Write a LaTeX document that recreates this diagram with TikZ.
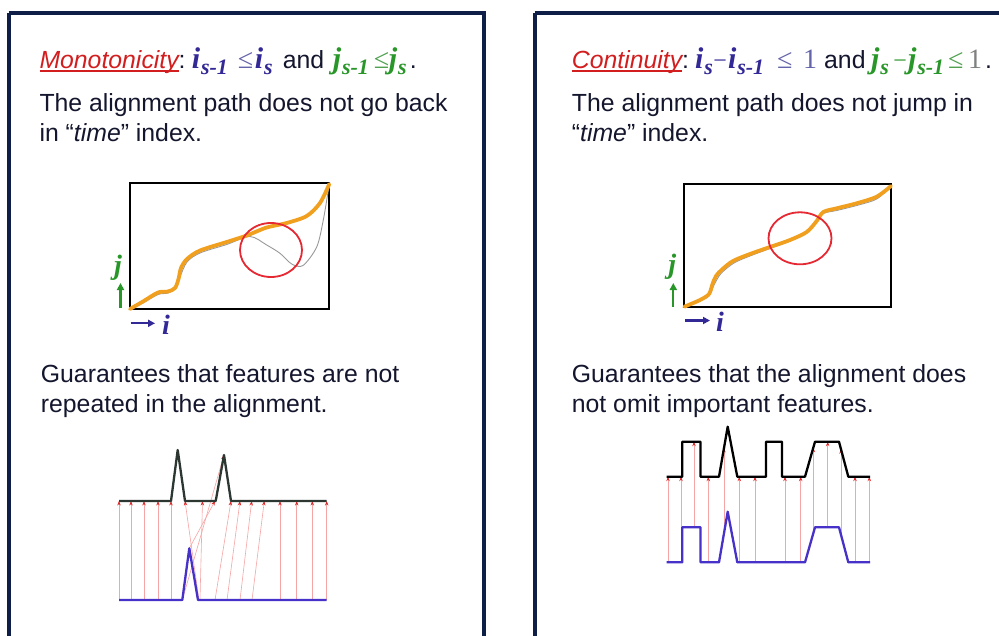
\documentclass[tikz,border=0pt]{standalone}
\usepackage{fontspec}
\setmainfont{Liberation Sans}
\newfontfamily\tmsfont{Liberation Serif}
\usetikzlibrary{arrows.meta}
\definecolor{titred}{RGB}{210,30,30}
\definecolor{iblue}{RGB}{50,40,150}
\definecolor{ileq}{RGB}{100,100,170}
\definecolor{jgreen}{RGB}{40,150,40}
\definecolor{jleq}{RGB}{80,160,80}
\definecolor{txtdark}{RGB}{20,22,45}
\definecolor{framecol}{RGB}{15,30,70}
\definecolor{pathorange}{RGB}{240,160,30}
\definecolor{circred}{RGB}{230,40,50}
\definecolor{pinkline}{RGB}{245,165,165}
\definecolor{arrred}{RGB}{220,40,40}
\definecolor{sigdark}{RGB}{45,55,50}
\definecolor{sigblue}{RGB}{70,50,200}
\newcommand\msub[1]{\kern0.8pt\raisebox{-0.22em}{\fontsize{22}{22}\selectfont #1}}
\newcommand\symI[1]{{\color{iblue}\fontsize{30}{30}\selectfont\tmsfont\bfseries\itshape i\msub{#1}}}
\newcommand\symJ[1]{{\color{jgreen}\fontsize{30}{30}\selectfont\tmsfont\bfseries\itshape j\msub{#1}}}
\newcommand\tmsr[2]{{\color{#1}\fontsize{28}{28}\selectfont\tmsfont #2}}
\newcommand\tmsm[1]{{\color{#1}\fontsize{24}{24}\selectfont\tmsfont −}}
\newcommand\ulword[1]{\setbox0\hbox{#1}\rlap{\rule[-3.2pt]{\wd0}{1.4pt}}\box0}
\tikzset{
  txt/.style={inner sep=0pt, anchor=base west, text=txtdark, font=\fontsize{24.8}{30}\selectfont},
  panel/.style={draw=framecol, line width=4pt},
  plotbox/.style={draw=black, line width=1.8pt},
  orangepath/.style={draw=pathorange, line width=3.8pt, line cap=round, line join=round},
  graypath/.style={draw=gray!80, line width=0.9pt},
  ring/.style={draw=circred, line width=1.8pt},
  alink/.style={draw=pinkline, line width=0.6pt, -{Stealth[length=4.5pt,width=3.4pt,color=arrred]}},
  topsig/.style={draw=sigdark, line width=2.3pt, line join=round},
  botsig/.style={draw=sigblue, line width=2.3pt, line join=round},
  axj/.style={draw=jgreen, line width=2.2pt, -{Triangle[length=7pt,width=7pt]}},
  axi/.style={draw=iblue, line width=2.2pt, -{Triangle[length=7pt,width=7pt]}},
  axlab/.style={inner sep=0pt, font=\fontsize{28}{28}\selectfont\tmsfont\bfseries\itshape}
}
\begin{document}
\begin{tikzpicture}[x=1pt,y=-1pt]
\useasboundingbox (0,0) rectangle (999,635);
\clip (0,0) rectangle (999,635);
\fill[white] (0,0) rectangle (999,635);
% panels
\draw[panel] (8.7,12.8) -- (484,12.8) -- (484,700) (8.7,12.8) -- (8.7,700);
\draw[panel] (534.5,12.8) -- (1100,12.8) (534.5,12.8) -- (534.5,700);

% ---------- left panel text ----------
\node[txt] (monot) at (39.3,68.3) {\makebox[152.4pt][l]{{\color{titred}\itshape\ulword{Monotonicity}}:}\makebox[46pt][l]{\symI{s-1}}\makebox[17pt][l]{\tmsr{ileq}{≤}}\makebox[28pt][l]{\symI{s}}\makebox[50pt][l]{and}\makebox[41pt][l]{\symJ{s-1}}\makebox[15pt][l]{\tmsr{jleq}{≤}}\makebox[21pt][l]{\symJ{s}}.};
\node[txt] (lA) at (39.3,111.7) {The alignment path does not go back};
\node[txt] (lB) at (39.3,141.7) {in “\textit{time}” index.};
\node[txt] (lC) at (40.7,382) {Guarantees that features are not};
\node[txt] (lD) at (40.7,412) {repeated in the alignment.};

% ---------- right panel text ----------
\node[txt] (contin) at (571.7,68.3) {\makebox[123.3pt][l]{{\color{titred}\itshape\ulword{Continuity}}:}\makebox[17pt][l]{\symI{s}}\makebox[16pt][c]{\tmsm{iblue}}\makebox[49pt][l]{\symI{s-1}}\makebox[26pt][l]{\tmsr{ileq}{≤}}\makebox[21pt][l]{\tmsr{ileq}{1}}\makebox[47pt][l]{and}\makebox[21pt][l]{\symJ{s}}\makebox[16pt][c]{\tmsm{jgreen}}\makebox[40pt][l]{\symJ{s-1}}\makebox[20pt][l]{\tmsr{jleq}{≤}}\makebox[17pt][l]{\tmsr{gray}{1}}.};
\node[txt] (rA) at (571.7,111.7) {The alignment path does not jump in};
\node[txt] (rB) at (571.7,141.7) {“\textit{time}” index.};
\node[txt] (rC) at (571.7,382) {Guarantees that the alignment does};
\node[txt] (rD) at (571.7,412) {not omit important features.};

% ---------- left plot ----------
\draw[plotbox] (130,183) rectangle (329,309);
\draw[graypath] plot[smooth, tension=0.5] coordinates {(130,309) (143,303) (158,294.5) (168,293) (176,288) (180,277) (187,262) (200,253) (226.7,244.5) (250,236.5) (266.7,245) (280,253.3) (291.7,264) (303,265.5) (316.7,247) (323.3,220) (329.3,184)};
\draw[orangepath] plot[smooth, tension=0.5] coordinates {(130,309) (143,301.5) (158,292.5) (168,291.5) (175,288) (178.5,279) (181,268) (187,259) (200,250.5) (226.7,242) (246.7,235.5) (266.7,227.5) (286.7,223) (306.7,216) (320,203) (329.3,184)};
\draw[ring] (271,250) ellipse [x radius=31, y radius=27];
\coordinate (ljs) at (120.5,308);
\coordinate (lje) at (120.5,283);
\draw[axj] (ljs) -- (lje);
\node[axlab, text=jgreen] (lj) at (118,268) {j};
\coordinate (lis) at (130.5,323.3);
\coordinate (lie) at (155,323.3);
\draw[axi] (lis) -- (lie);
\node[axlab, text=iblue] (li) at (166,325) {i};

% ---------- right plot ----------
\draw[plotbox] (684,184) rectangle (891,307);
\draw[graypath] plot[smooth, tension=0.5] coordinates {(684.3,306.7) (700,300.5) (709,296) (714,285) (721,273.5) (734,263) (750,256) (770,248.5) (790,241) (806.7,233) (816.7,222) (823.3,213.5) (836.7,210.5) (856.7,205.5) (876.7,199) (891,186)};
\draw[orangepath] plot[smooth, tension=0.5] coordinates {(684.3,306.7) (700,300) (709,294) (712.5,284) (716,276) (722,269.5) (733,261) (750,254) (770,247) (790,240) (806.7,232) (816.7,221) (823.3,212) (836.7,208.3) (856.7,203.3) (876.7,196.7) (891,186)};
\draw[ring] (800,238.3) ellipse [x radius=31.5, y radius=26];
\coordinate (rjs) at (673.3,306.7);
\coordinate (rje) at (673.3,283);
\draw[axj] (rjs) -- (rje);
\node[axlab, text=jgreen] (rj) at (672.3,266.7) {j};
\coordinate (ris) at (685,320.5);
\coordinate (rie) at (710,320.5);
\draw[axi] (ris) -- (rie);
\node[axlab, text=iblue] (ri) at (720,321.7) {i};

% ---------- left signals ----------
\foreach \xb/\yb/\xt/\yt in {119/600/119/501, 131/600/131/501, 144/600/144/501, 158/600/158/501, 171/600/171/501, 199/600/185/501, 200/600/202.5/501, 189.3/548.3/215/501, 182.3/600/224/455, 215/600/231/501, 227/600/240/501, 240/600/251.7/501, 252/600/264.3/501, 280/600/280/501, 296.7/600/296.7/501, 312.3/600/312.3/501, 326.7/600/326.7/501}
  \draw[alink] (\xb,\yb) -- (\xt,\yt);
\draw[topsig] (119,501) -- (171,501) -- (177.7,450) -- (185,501) -- (215.7,501) -- (224,455) -- (231,501) -- (326.7,501);
\draw[botsig] (119,600) -- (182.3,600) -- (189.3,548.3) -- (198,600) -- (326.7,600);

% ---------- right signals ----------
\foreach \xx/\yb/\yt in {668/562.3/476.7, 681/562.3/476.7, 694/527.3/441.7, 708.3/562.3/476.7, 724/533/448, 739.3/562.3/476.7, 755/562.3/476.7, 785/562.3/476.7, 800.7/562.3/476.7, 813.3/533.3/447.7, 827.7/527.3/441.7, 841/534.8/449.2, 855/562.3/476.7, 869.3/562.3/476.7}
  \draw[alink] (\xx,\yb) -- (\xx,\yt);
\draw[topsig, draw=black] (666.7,476.7) -- (682.3,476.7) -- (682.3,441.7) -- (700.5,441.7) -- (700.5,476.7) -- (719,476.7) -- (727.7,426.7) -- (737.3,476.7) -- (766,476.7) -- (766,441.7) -- (782,441.7) -- (782,476.7) -- (805,476.7) -- (815,441.7) -- (839,441.7) -- (848.3,476.7) -- (870,476.7);
\draw[botsig] (666.7,562.3) -- (682.3,562.3) -- (682.3,527.3) -- (700.5,527.3) -- (700.5,562.3) -- (719,562.3) -- (727.7,511.7) -- (737.3,562.3) -- (805,562.3) -- (815,527.3) -- (839,527.3) -- (848.3,562.3) -- (870,562.3);
\end{tikzpicture}
\end{document}
